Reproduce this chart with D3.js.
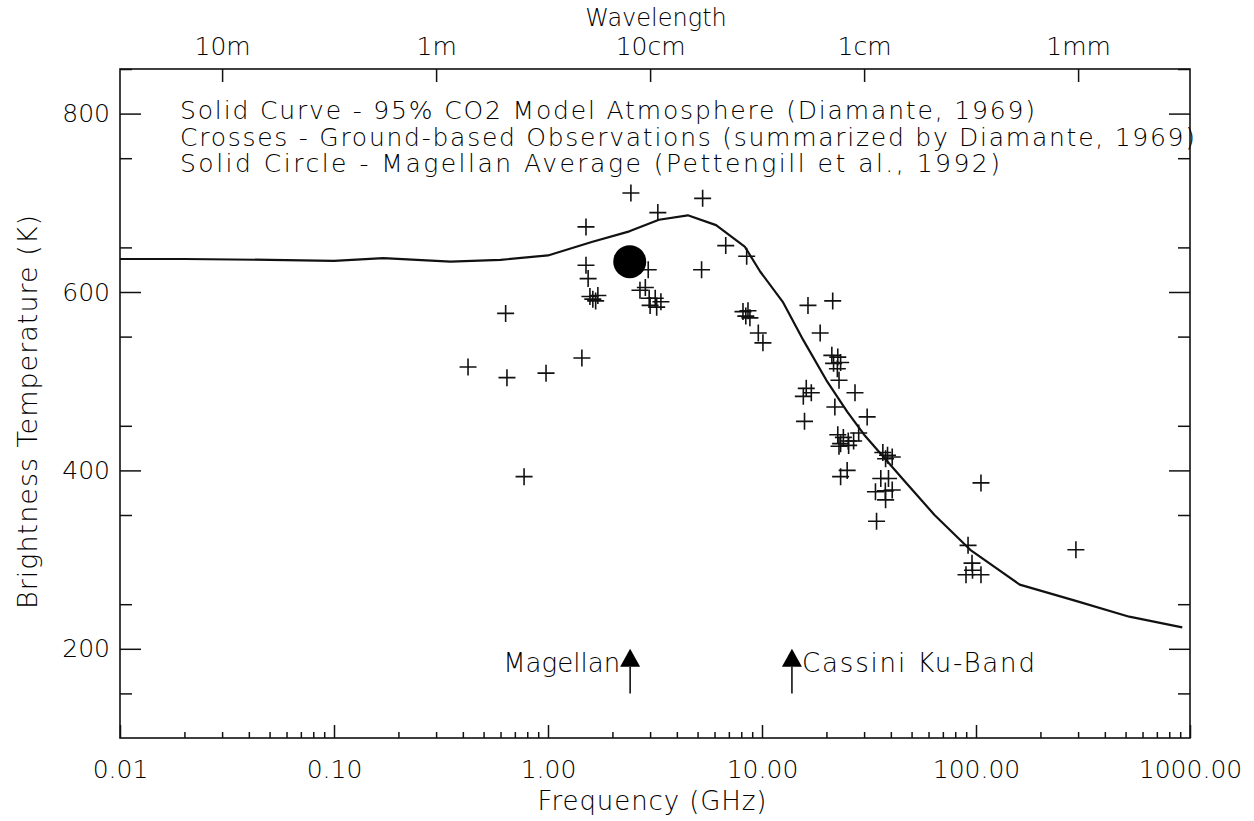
<!DOCTYPE html>
<html>
<head>
<meta charset="utf-8">
<script src="https://cdn.jsdelivr.net/npm/d3@7"></script>
<style>
body { margin: 0; background: #fff; }
svg text { font-family: "DejaVu Sans", sans-serif; font-weight: 300; fill: #000; }
</style>
</head>
<body>
<svg id="chart" width="1254" height="821"></svg>
<script>
// model atmosphere curve (GHz, K)
var curveFreq = [0.01, 0.02, 0.05, 0.1, 0.17, 0.35, 0.6, 1.0, 1.6, 2.4, 3.3, 4.5, 6.1, 8.3, 9.8, 12.5, 15.6, 20, 25, 30, 46, 64, 94, 160, 290, 520, 920];
var curveTemp = [637, 637, 636, 635, 638, 634, 636, 641, 656, 668, 681, 686, 675, 651, 623, 589, 546, 501, 466, 440, 389, 350, 311, 272, 254, 236, 224];

// ground-based observations
var obsFreq = [0.423, 0.643, 0.634, 0.979, 0.773, 1.44, 1.505, 1.505, 1.54, 1.57, 1.62, 1.67, 1.71,
  2.44, 3.26, 5.28, 6.77, 8.48, 2.94, 5.22, 2.69, 2.85, 2.97, 3.17, 3.37, 3.0, 3.22,
  8.15, 8.6, 8.78, 8.4, 9.61, 10.1, 16.4, 21.4, 18.7, 21.2, 22.6, 23.3, 21.6, 22.5, 22.9,
  27.2, 16.1, 17.0, 15.6, 21.9, 31.0, 15.8, 22.6, 24.0, 25.3, 23.3, 26.8, 28.3, 22.9, 25.4,
  36.7, 38.6, 40.6, 37.8, 25.0, 23.3, 35.9, 39.0, 33.9, 37.7, 34.3, 40.6, 37.8,
  91.8, 95.8, 105.5, 89.8, 96.3, 105.5, 293];
var obsTemp = [516, 504, 576, 509, 393, 526, 673, 630, 615, 595, 592, 590, 596,
  711, 689, 705, 652, 640, 625, 625, 602, 605, 593, 593, 589, 585, 583,
  578, 579, 571, 573, 554, 543, 585, 590, 554, 529, 527, 521, 520, 514, 501,
  487, 492, 487, 483, 471, 460, 455, 440, 437, 433, 430, 433, 442, 427, 428,
  420, 417, 415, 413, 400, 393, 391, 391, 376, 377, 343, 378, 367,
  316, 296, 386, 283, 288, 283, 311];

// Magellan average
var magFreq = [2.41];
var magTemp = [634];

var xTicks = [0.01, 0.1, 1, 10, 100, 1000];
var yTicks = [200, 400, 600, 800];
var yMinor = [150, 250, 350, 450, 550, 650, 750, 850];
var waveFreq = [0.03, 0.3, 3, 30, 300];
var waveLabels = ["10m", "1m", "10cm", "1cm", "1mm"];
var legendLines = [
  "Solid Curve - 95% CO2 Model Atmosphere (Diamante, 1969)",
  "Crosses - Ground-based Observations (summarized by Diamante, 1969)",
  "Solid Circle - Magellan Average (Pettengill et al., 1992)"
];
var legendWidths = [855, 1015, 820];
var arrowNames = ["Magellan", "Cassini Ku-Band"];
var arrowFreq = [2.42, 13.8];
var arrowTextWidths = [117, 233];

var svg = d3.select("#chart");
var L = 120, R = 1190, T = 69, B = 738;

var x = d3.scaleLog().domain([0.01, 1000]).range([L, R]);
var y = d3.scaleLinear().domain([100, 850]).range([B, T]);

var xMinor = [];
xTicks.slice(0, -1).forEach(function(d) {
  for (var k = 2; k < 10; k++) xMinor.push(d * k);
});

function style(g, size) {
  g.select(".domain").remove();
  g.selectAll("line").attr("stroke", "#111").attr("stroke-width", 1.5);
  g.selectAll("text").style("font-size", size + "px");
}

// bottom axis
svg.append("g").attr("transform", "translate(0," + B + ")")
  .call(d3.axisBottom(x).tickValues(xTicks).tickFormat(d3.format(".2f"))
    .tickSizeInner(-13).tickSizeOuter(0).tickPadding(22))
  .call(style, 25);
svg.append("g").attr("transform", "translate(0," + B + ")")
  .call(d3.axisBottom(x).tickValues(xMinor).tickFormat("").tickSizeInner(-6).tickSizeOuter(0))
  .call(style, 25);

// top axis: wavelength
svg.append("g").attr("transform", "translate(0," + T + ")")
  .call(d3.axisTop(x).tickValues(waveFreq).tickFormat(function(d, i) { return waveLabels[i]; })
    .tickSizeInner(-13).tickSizeOuter(0).tickPadding(14))
  .call(style, 25);

// left axis
svg.append("g").attr("transform", "translate(" + L + ",0)")
  .call(d3.axisLeft(y).tickValues(yTicks).tickFormat(d3.format("d"))
    .tickSizeInner(-21).tickSizeOuter(0).tickPadding(10))
  .call(style, 25);
svg.append("g").attr("transform", "translate(" + L + ",0)")
  .call(d3.axisLeft(y).tickValues(yMinor).tickFormat("").tickSizeInner(-12).tickSizeOuter(0))
  .call(style, 25);

// right axis
svg.append("g").attr("transform", "translate(" + R + ",0)")
  .call(d3.axisRight(y).tickValues(yTicks).tickFormat("").tickSizeInner(-21).tickSizeOuter(0))
  .call(style, 25);
svg.append("g").attr("transform", "translate(" + R + ",0)")
  .call(d3.axisRight(y).tickValues(yMinor).tickFormat("").tickSizeInner(-12).tickSizeOuter(0))
  .call(style, 25);

// frame
svg.append("rect")
  .attr("x", L).attr("y", T).attr("width", R - L).attr("height", B - T)
  .attr("fill", "none").attr("stroke", "#111").attr("stroke-width", 1.6);

// axis titles
svg.append("text").attr("x", 652).attr("y", 810).attr("text-anchor", "middle")
  .attr("textLength", 229).attr("lengthAdjust", "spacing")
  .style("font-size", "26px").text("Frequency (GHz)");
svg.append("text").attr("x", 656).attr("y", 26).attr("text-anchor", "middle")
  .style("font-size", "24px").text("Wavelength");
svg.append("text").attr("transform", "translate(37,412) rotate(-90)")
  .attr("text-anchor", "middle").attr("textLength", 394).attr("lengthAdjust", "spacing")
  .style("font-size", "27px").text("Brightness Temperature (K)");

// legend text
svg.selectAll(".leg").data(legendLines).enter().append("text")
  .attr("class", "leg")
  .attr("x", 180).attr("y", function(d, i) { return 119 + i * 26.5; })
  .attr("textLength", function(d, i) { return legendWidths[i]; })
  .attr("lengthAdjust", "spacing")
  .style("font-size", "25px")
  .text(function(d) { return d; });

// model curve
var curve = curveFreq.map(function(f, i) { return {f: f, t: curveTemp[i]}; });
svg.append("path").datum(curve)
  .attr("fill", "none").attr("stroke", "#111").attr("stroke-width", 2.2)
  .attr("stroke-linejoin", "round")
  .attr("d", d3.line().x(function(d) { return x(d.f); }).y(function(d) { return y(d.t); }));

// crosses
var obs = obsFreq.map(function(f, i) { return {f: f, t: obsTemp[i]}; });
var s = 8.5;
svg.append("g").selectAll("path").data(obs).enter().append("path")
  .attr("transform", function(d) { return "translate(" + x(d.f) + "," + y(d.t) + ")"; })
  .attr("d", "M" + (-s) + ",0H" + s + "M0," + (-s) + "V" + s)
  .attr("stroke", "#111").attr("stroke-width", 1.6).attr("fill", "none");

// Magellan average
svg.append("g").selectAll("circle").data(magFreq).enter().append("circle")
  .attr("cx", function(d) { return x(d); })
  .attr("cy", function(d, i) { return y(magTemp[i]); })
  .attr("r", 16.5).attr("fill", "#000");

// arrows
arrowFreq.forEach(function(f, i) {
  var ax = x(f), tip = y(200), base = tip + 18;
  svg.append("line").attr("x1", ax).attr("x2", ax).attr("y1", y(150)).attr("y2", base)
    .attr("stroke", "#111").attr("stroke-width", 1.6);
  svg.append("path")
    .attr("d", "M" + ax + "," + tip + "L" + (ax - 10) + "," + base + "L" + (ax + 10) + "," + base + "Z")
    .attr("fill", "#000");
  svg.append("text")
    .attr("x", i === 0 ? ax - 10 : ax + 10).attr("y", 672)
    .attr("text-anchor", i === 0 ? "end" : "start")
    .attr("textLength", arrowTextWidths[i]).attr("lengthAdjust", "spacing")
    .style("font-size", "26px")
    .text(arrowNames[i]);
});
</script>
</body>
</html>
